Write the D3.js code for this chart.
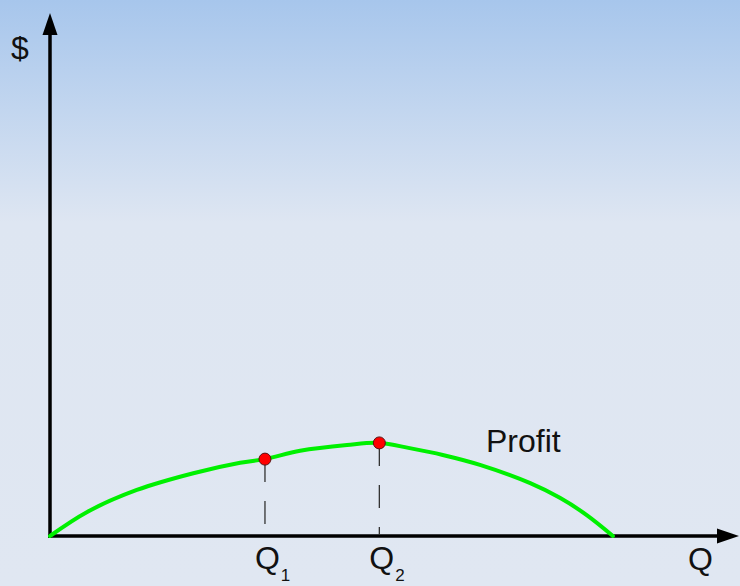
<!DOCTYPE html>
<html lang="en">
<head>
  <meta charset="UTF-8">
  <title>Profit curve</title>
  <style>
    body { margin: 0; padding: 0; overflow: hidden; }
    svg { display: block; font-family: Arial, "Liberation Sans", sans-serif; }
  </style>
</head>
<body>
  <svg id="chart"></svg>
  <script src="https://d3js.org/d3.v7.min.js"></script>
  <script>
    const width = 740;
    const height = 586;

    // profit curve (quantity, profit), arbitrary units 0-100
    const curveQ = [0, 5.4, 12.6, 20.8, 27.6, 31.2, 36.3, 43.1, 47.8, 52.2, 57.0, 62.4, 69.7, 74.0, 77.9, 81.7];
    const curveProfit = [0, 4.6, 8.8, 12.0, 14.0, 14.7, 16.3, 17.4, 17.8, 16.8, 15.5, 13.6, 10.1, 7.3, 4.0, 0];

    // marked quantities
    const markNames = ["1", "2"];
    const markQ = [31.2, 47.8];
    const markProfit = [14.7, 17.8];

    const axisLabelY = "$";
    const axisLabelX = "Q";
    const curveLabel = "Profit";

    const svg = d3.select("#chart")
      .attr("width", width)
      .attr("height", height);

    // background gradient
    const defs = svg.append("defs");
    const grad = defs.append("linearGradient")
      .attr("id", "bg")
      .attr("x1", 0).attr("y1", 0).attr("x2", 0).attr("y2", 1);
    grad.append("stop").attr("offset", "0%").attr("stop-color", "#a7c6ec");
    grad.append("stop").attr("offset", "38%").attr("stop-color", "#dee6f2");
    grad.append("stop").attr("offset", "100%").attr("stop-color", "#e0e7f2");
    svg.append("rect")
      .attr("width", width)
      .attr("height", height)
      .attr("fill", "url(#bg)");

    const x = d3.scaleLinear().domain([0, 100]).range([50, 739]);
    const y = d3.scaleLinear().domain([0, 100]).range([536, 13]);

    // axes with arrow heads
    const axisColor = "#000";
    svg.append("line")
      .attr("x1", x(0)).attr("y1", y(0) + 2)
      .attr("x2", x(0)).attr("y2", y(100) + 20)
      .attr("stroke", axisColor).attr("stroke-width", 3.5);
    svg.append("path")
      .attr("d", `M${x(0)},${y(100)} L${x(0) - 7.5},${y(100) + 22} L${x(0) + 7.5},${y(100) + 22} Z`)
      .attr("fill", axisColor);

    svg.append("line")
      .attr("x1", x(0) - 2).attr("y1", y(0))
      .attr("x2", x(100) - 20).attr("y2", y(0))
      .attr("stroke", axisColor).attr("stroke-width", 3.5);
    svg.append("path")
      .attr("d", `M${x(100)},${y(0)} L${x(100) - 22},${y(0) - 7.5} L${x(100) - 22},${y(0) + 7.5} Z`)
      .attr("fill", axisColor);

    // dashed drop lines
    svg.selectAll(".drop")
      .data(markQ)
      .enter()
      .append("line")
      .attr("class", "drop")
      .attr("x1", d => x(d)).attr("x2", d => x(d))
      .attr("y1", (d, i) => y(markProfit[i]))
      .attr("y2", y(0) - 1)
      .attr("stroke", "#333")
      .attr("stroke-width", 1.3)
      .attr("stroke-dasharray", "23,19");

    // profit curve
    const line = d3.line()
      .x((d, i) => x(curveQ[i]))
      .y(d => y(d))
      .curve(d3.curveCatmullRom.alpha(0.5));

    svg.append("path")
      .datum(curveProfit)
      .attr("d", line)
      .attr("fill", "none")
      .attr("stroke", "#00f000")
      .attr("stroke-width", 4)
      .attr("stroke-linecap", "round");

    // points
    svg.selectAll(".pt")
      .data(markQ)
      .enter()
      .append("circle")
      .attr("class", "pt")
      .attr("cx", d => x(d))
      .attr("cy", (d, i) => y(markProfit[i]))
      .attr("r", 6)
      .attr("fill", "#ff0000")
      .attr("stroke", "#5a1010")
      .attr("stroke-width", 1);

    // labels
    svg.append("text")
      .attr("x", 11).attr("y", 59)
      .attr("font-size", 32)
      .attr("fill", "#111")
      .text(axisLabelY);

    svg.append("text")
      .attr("x", 688).attr("y", 570)
      .attr("font-size", 32)
      .attr("fill", "#111")
      .text(axisLabelX);

    svg.append("text")
      .attr("x", 486).attr("y", 452)
      .attr("font-size", 32)
      .attr("fill", "#111")
      .text(curveLabel);

    const qLabels = svg.selectAll(".qlab")
      .data(markQ)
      .enter()
      .append("text")
      .attr("class", "qlab")
      .attr("x", d => x(d) - 10)
      .attr("y", 569)
      .attr("font-size", 32)
      .attr("fill", "#111");
    qLabels.append("tspan").text(axisLabelX);
    qLabels.append("tspan")
      .attr("font-size", 17)
      .attr("dx", 1)
      .attr("dy", 12)
      .text((d, i) => markNames[i]);
  </script>
</body>
</html>
